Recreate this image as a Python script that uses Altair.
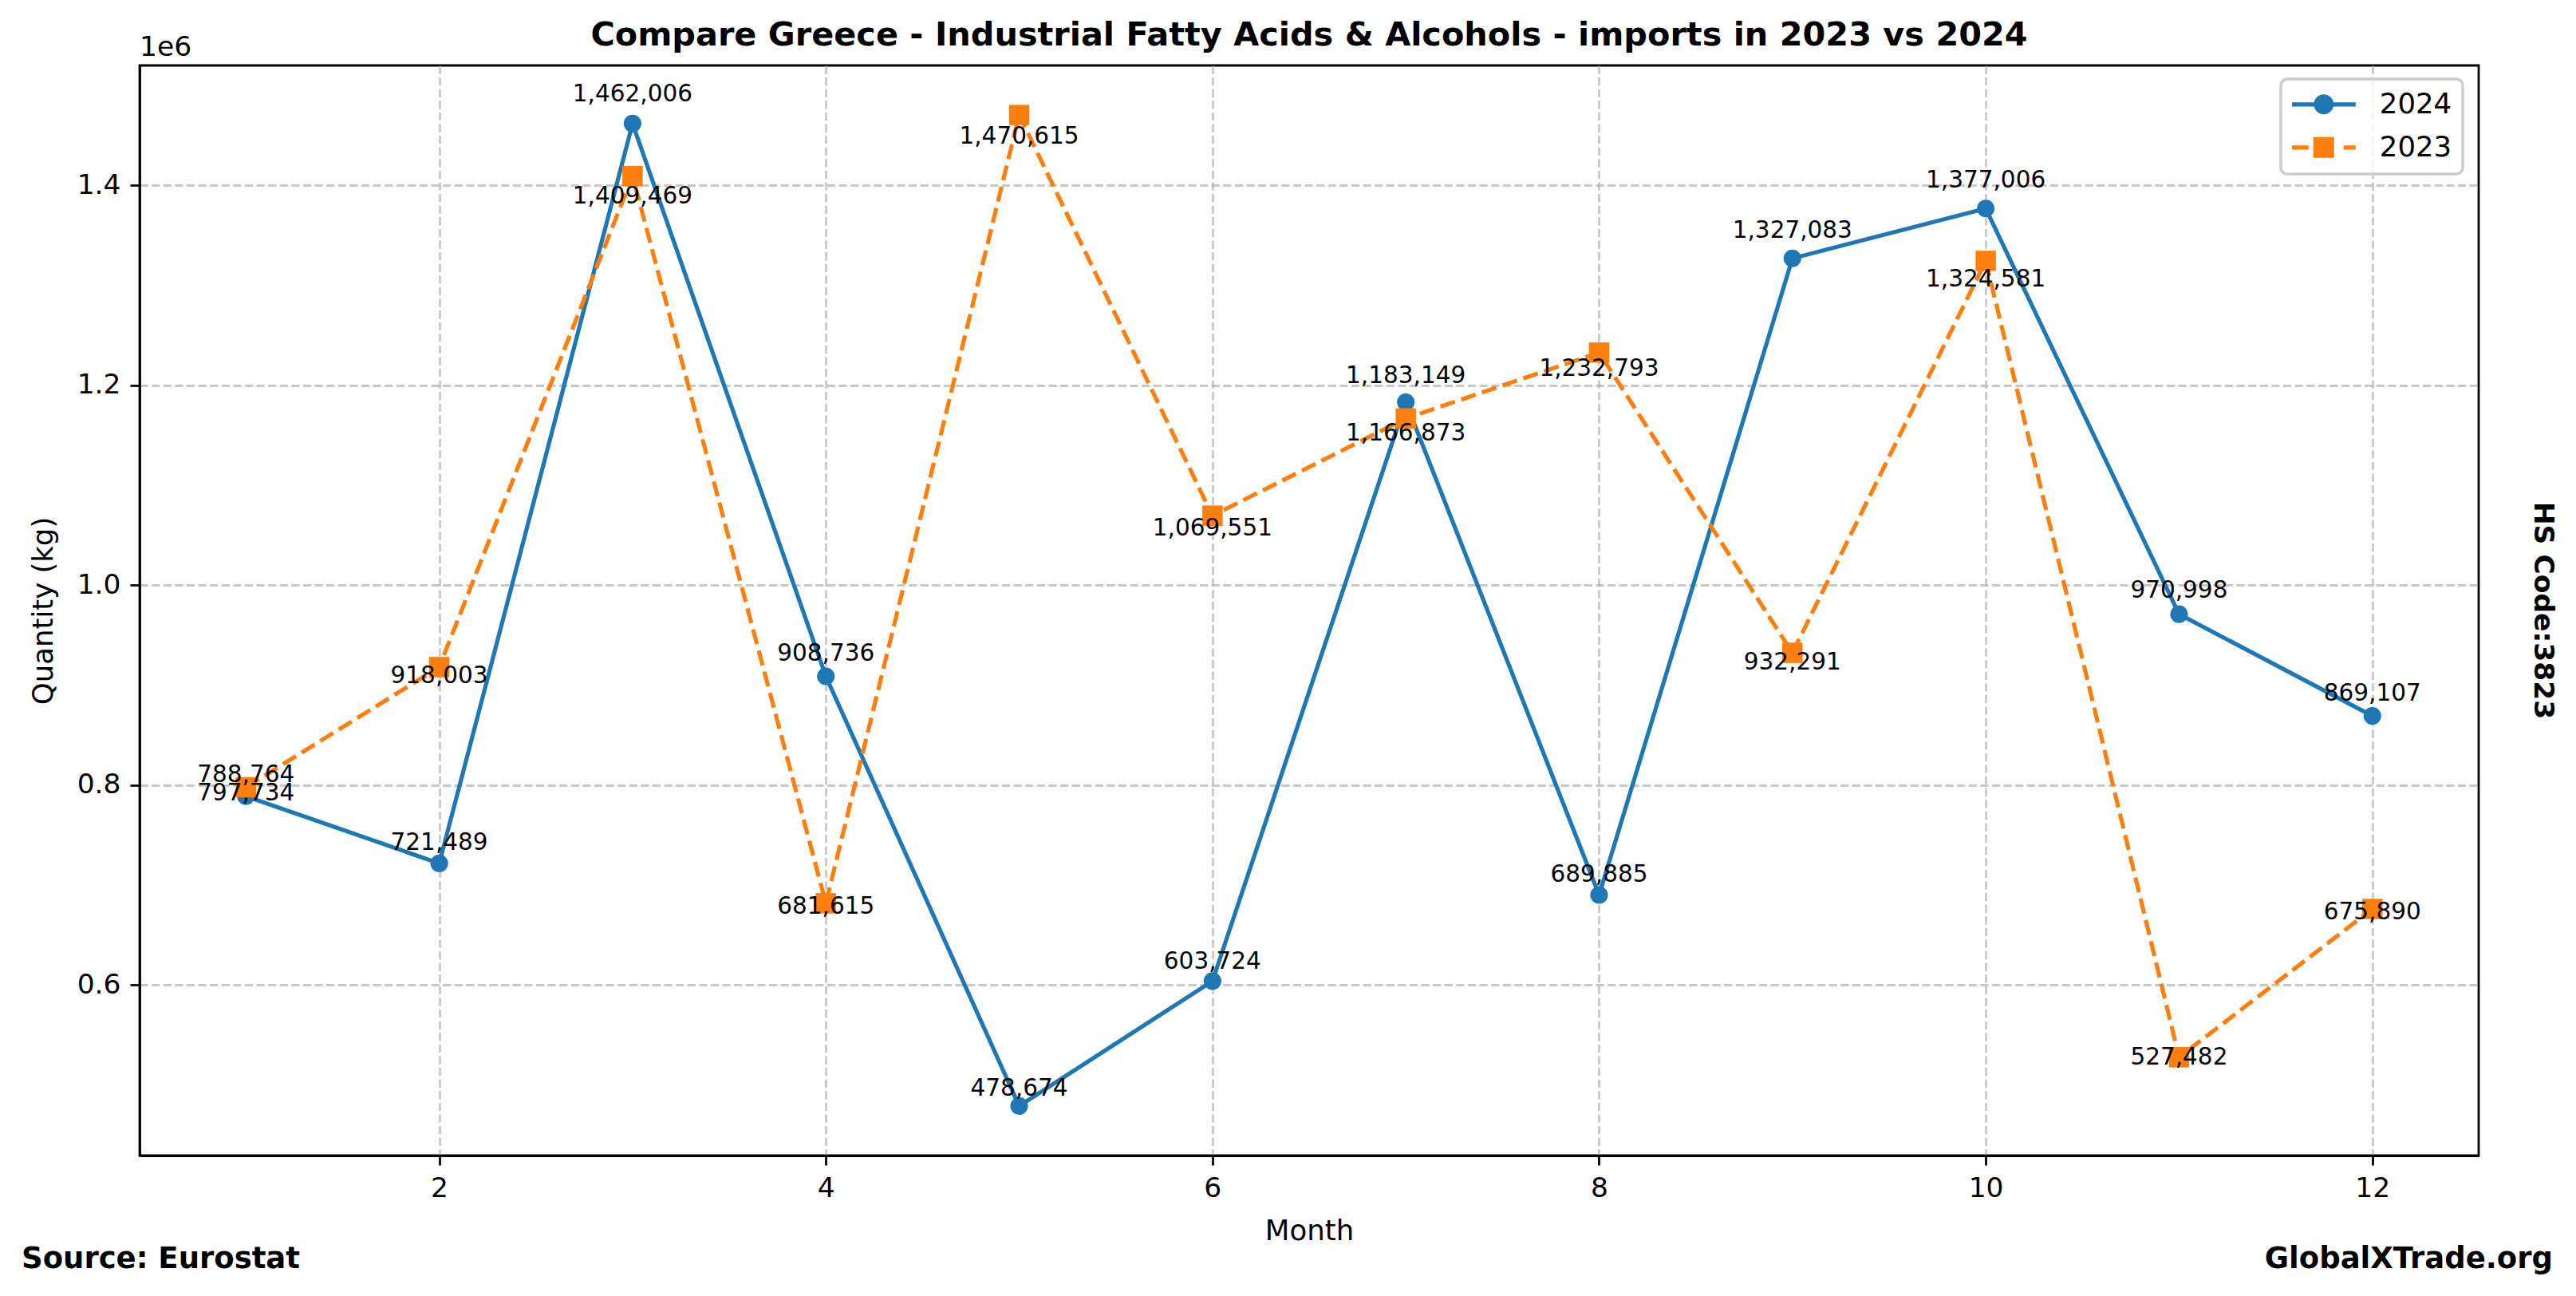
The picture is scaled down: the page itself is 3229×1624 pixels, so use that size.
import altair as alt
import pandas as pd

# ---------------- data ----------------
months = list(range(1, 13))
imports_2024 = [788764, 721489, 1462006, 908736, 478674, 603724,
                1183149, 689885, 1327083, 1377006, 970998, 869107]
imports_2023 = [797734, 918003, 1409469, 681615, 1470615, 1069551,
                1166873, 1232793, 932291, 1324581, 527482, 675890]
series_names = ["2024", "2023"]
series_colors = ["#1f77b4", "#ff7f0e"]
x_tick_values = [2, 4, 6, 8, 10, 12]
y_tick_values = [600000, 800000, 1000000, 1200000, 1400000]

title_text = "Compare Greece - Industrial Fatty Acids & Alcohols - imports in 2023 vs 2024"
x_title = "Month"
y_title = "Quantity (kg)"
offset_text = "1e6"
source_text = "Source: Eurostat"
site_text = "GlobalXTrade.org"
hs_text = "HS Code:3823"

df = pd.DataFrame({
    "month": months * 2,
    "qty": imports_2024 + imports_2023,
    "series": ["2024"] * 12 + ["2023"] * 12,
})

# matplotlib-like autoscale margins (5%)
all_vals = imports_2024 + imports_2023
vmin, vmax = min(all_vals), max(all_vals)
pad_v = 0.05 * (vmax - vmin)
y_domain = [vmin - pad_v, vmax + pad_v]
x_domain = [1 - 0.05 * 11, 12 + 0.05 * 11]

FONT = "DejaVu Sans"
W, H = 2932, 1366
LW = 2.76

x_scale = alt.Scale(domain=x_domain, nice=False, zero=False)
y_scale = alt.Scale(domain=y_domain, nice=False, zero=False)

x_axis = alt.Axis(values=x_tick_values, title=x_title, format="d",
                  titleY=105, titleBaseline="alphabetic")
y_axis = alt.Axis(values=y_tick_values, title=y_title,
                  labelExpr="format(datum.value / 1000000, '.1f')",
                  titleX=-121, titleY=H / 2, titleAngle=270,
                  titleBaseline="middle", titleAlign="center")

base = alt.Chart(df).encode(
    x=alt.X("month:Q", scale=x_scale, axis=x_axis),
    y=alt.Y("qty:Q", scale=y_scale, axis=y_axis),
)

f24 = "datum.series == '2024'"
f23 = "datum.series == '2023'"

line24 = base.transform_filter(f24).mark_line(color=series_colors[0], strokeWidth=5.2)
pts24 = base.transform_filter(f24).mark_point(shape="circle", filled=True, size=490,
                                              color=series_colors[0], opacity=1)
line23 = base.transform_filter(f23).mark_line(color=series_colors[1], strokeWidth=5.2,
                                              strokeDash=[19.1, 8.3])
pts23 = base.transform_filter(f23).mark_point(shape="square", filled=True, size=650,
                                              color=series_colors[1], opacity=1)

def value_labels(flt, factor):
    return alt.Chart(df).transform_filter(flt).transform_calculate(
        ly=f"datum.qty * {factor}"
    ).mark_text(baseline="bottom", align="center", fontSize=29.5, font=FONT,
                color="black").encode(
        x=alt.X("month:Q", scale=x_scale, axis=x_axis),
        y=alt.Y("ly:Q", scale=y_scale, axis=y_axis),
        text=alt.Text("qty:Q", format=","),
    )

txt24 = value_labels(f24, 1.012)
txt23 = value_labels(f23, 0.977)

# legend symbols: line + marker glyphs (unit box -1..1)
path24 = ("M-1,-0.065H1V0.065H-1Z "
          "M-0.3125,0A0.3125,0.3125 0 1,1 0.3125,0A0.3125,0.3125 0 1,1 -0.3125,0Z")
path23 = ("M-1,-0.065H-0.475V0.065H-1Z "
          "M0.625,-0.065H1V0.065H0.625Z "
          "M-0.325,-0.325H0.325V0.325H-0.325Z")

leg = alt.Legend(title=None, orient="none", legendX=2684, legendY=17,
                 padding=13.8, symbolSize=6400, symbolStrokeWidth=0,
                 labelFontSize=35.5, labelFont=FONT, labelColor="black",
                 labelOffset=30, clipHeight=36, rowPadding=17,
                 strokeColor="#cccccc", fillColor="rgba(255,255,255,0.8)",
                 cornerRadius=8)

legend_layer = alt.Chart(df).transform_filter("false").mark_point(
    filled=True, opacity=1, strokeWidth=0
).encode(
    color=alt.Color("series:N", scale=alt.Scale(domain=series_names, range=series_colors), legend=leg),
    shape=alt.Shape("series:N", scale=alt.Scale(domain=series_names, range=[path24, path23]), legend=leg),
)

def note(text, x, y, align="left", baseline="alphabetic", bold=False, angle=0, size=34.5):
    kw = dict(align=align, baseline=baseline, fontSize=size, font=FONT, color="black",
              fontWeight="bold" if bold else "normal")
    if angle:
        kw["angle"] = angle
    return alt.Chart(pd.DataFrame({"t": [text]})).mark_text(**kw).encode(
        x=alt.value(x), y=alt.value(y), text="t:N")

title_note = note(title_text, W / 2, -25, align="center", bold=True, size=41.4)
offset_note = note(offset_text, 0, -12)
source_note = note(source_text, -148, 1507, bold=True, size=37)
site_note = note(site_text, 3025, 1507, align="right", bold=True, size=37)
hs_note = note(hs_text, 3012, H / 2, align="center", baseline="middle", bold=True, angle=90)

chart = alt.layer(
    line24, pts24, line23, pts23, txt24, txt23, legend_layer,
    title_note, offset_note, source_note, site_note, hs_note,
).properties(
    width=W, height=H,
    padding={"left": 167, "top": 74, "right": 114, "bottom": 168},
    autosize=alt.AutoSizeParams(type="none"),
).configure_view(
    stroke="black", strokeWidth=LW
).configure_axis(
    domainColor="black", domainWidth=LW,
    tickColor="black", tickWidth=LW, tickSize=12,
    labelFont=FONT, labelFontSize=34.5, labelColor="black", labelPadding=12,
    labelOverlap=False, labelFlush=False, labelBound=False,
    titleFont=FONT, titleFontSize=35.5, titleColor="black", titleFontWeight="normal",
    grid=True, gridColor="#b0b0b0", gridOpacity=0.7, gridDash=[10.2, 4.4], gridWidth=LW,
).configure_legend(
    strokeWidth=3.45
)

chart.save("out.html", embed_options={"renderer": "svg", "actions": False})
